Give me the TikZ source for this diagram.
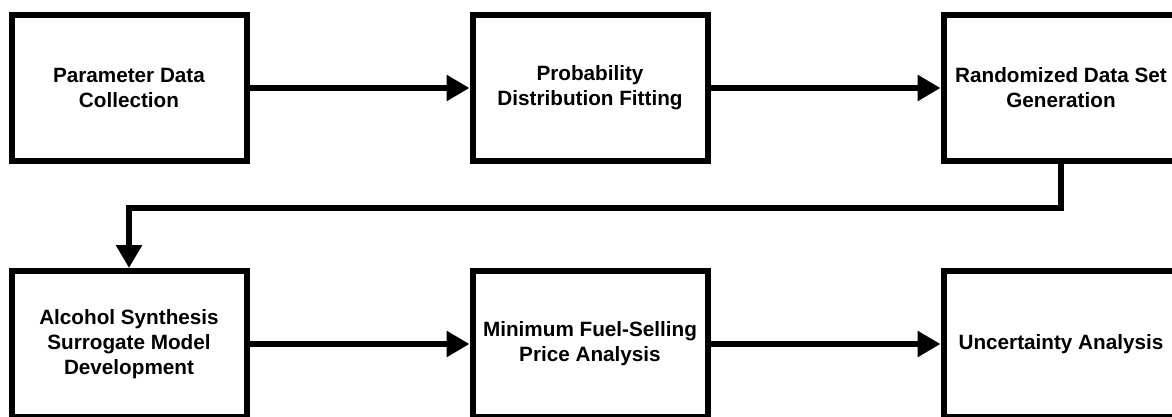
\documentclass[tikz,border=0pt]{standalone}
\usepackage{fontspec}
\setmainfont{Liberation Sans}
\usetikzlibrary{arrows.meta}
\tikzset{
  stepbox/.style={draw=black, line width=6pt, minimum width=235pt, minimum height=146pt,
    inner sep=0pt, align=center, font=\fontsize{20.7pt}{24.8pt}\selectfont\bfseries},
  flow/.style={draw=black, line width=6pt, -{Triangle[length=23pt,width=25pt]}}
}
\begin{document}
\begin{tikzpicture}[x=1pt,y=1pt]
\useasboundingbox (0,0) rectangle (1172,-417);
\node[stepbox] (b1) at (129,-88) {Parameter Data\\Collection};
\node[stepbox] (b2) at (590,-88) {Probability\\Distribution Fitting};
\node[stepbox] (b3) at (1061,-88) {Randomized Data Set\\Generation};
\node[stepbox] (b4) at (129,-344) {Alcohol Synthesis\\Surrogate Model\\Development};
\node[stepbox] (b5) at (590,-344) {Minimum Fuel-Selling\\Price Analysis};
\node[stepbox] (b6) at (1061,-344) {Uncertainty Analysis};
\draw[flow] (b1) -- (b2);
\draw[flow] (b2) -- (b3);
\draw[flow] (b3.south) -- ++(0,-44) -| (b4.north);
\draw[flow] (b4) -- (b5);
\draw[flow] (b5) -- (b6);
\end{tikzpicture}
\end{document}
